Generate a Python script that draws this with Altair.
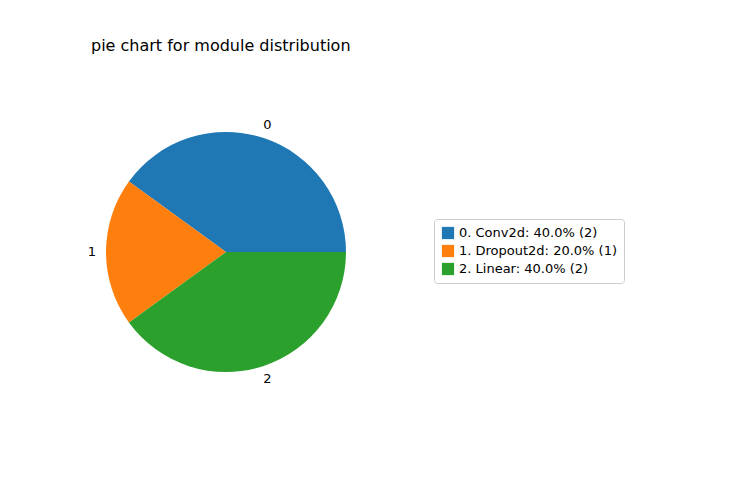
import altair as alt
import pandas as pd

labels = ["0", "1", "2"]
names = ["0. Conv2d: 40.0% (2)", "1. Dropout2d: 20.0% (1)", "2. Linear: 40.0% (2)"]
counts = [2, 1, 2]
colors = ["#1f77b4", "#ff7f0e", "#2ca02c"]
draw_order = [2, 1, 0]  # vega draws clockwise from 3 o'clock

df = pd.DataFrame({"label": labels, "name": names, "count": counts, "ord": draw_order})

cx, cy = 218, 244
theta_scale = alt.Scale(range=[1.5707963, 7.8539816])

base = alt.Chart(df).encode(
    theta=alt.Theta("count:Q", stack=True, scale=theta_scale),
    order=alt.Order("ord:Q"),
)

arcs = base.mark_arc(outerRadius=120, x=cx, y=cy).encode(
    color=alt.Color("name:N", scale=alt.Scale(domain=names, range=colors),
                    legend=alt.Legend(title=None, orient="none", legendX=426, legendY=211,
                                      strokeColor="#cccccc", padding=7, cornerRadius=3,
                                      symbolType="square", symbolSize=150,
                                      labelFont="DejaVu Sans", labelFontSize=13,
                                      rowPadding=4, fillColor="white"))
)

text = base.mark_text(radius=134, x=cx, y=cy, font="DejaVu Sans", fontSize=13,
                      color="black").encode(text="label:N")

title = alt.Chart(pd.DataFrame({"t": ["pie chart for module distribution"]})).mark_text(
    align="left", baseline="middle", font="DejaVu Sans", fontSize=16, color="black"
).encode(x=alt.value(83), y=alt.value(38), text="t:N")

chart = alt.layer(arcs, text, title).properties(
    width=734, height=484, autosize=alt.AutoSizeParams(type="none"), padding=0
).configure_view(stroke=None)

chart.save("out.html", embed_options={"renderer": "svg", "actions": False})
